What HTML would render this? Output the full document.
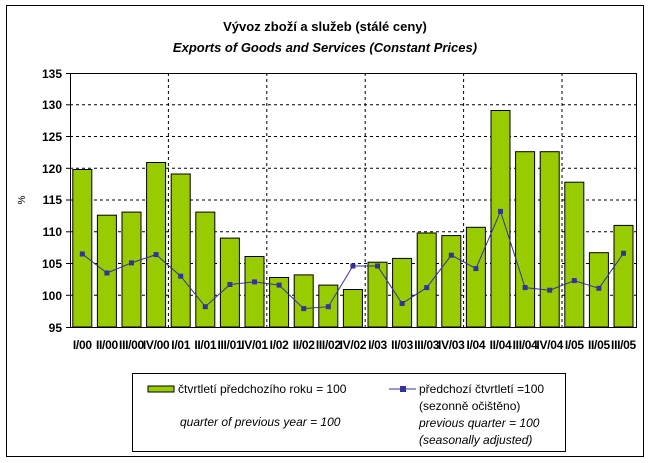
<!DOCTYPE html>
<html><head><meta charset="utf-8"><style>
body{margin:0;background:#fff}
svg{display:block;font-family:"Liberation Sans",Arial,sans-serif}
</style></head><body>
<svg width="650" height="463" viewBox="0 0 650 463" xmlns="http://www.w3.org/2000/svg">
<rect x="0" y="0" width="650" height="463" fill="#fff"/>
<rect x="6.5" y="5.5" width="637" height="451" fill="none" stroke="#000" stroke-width="1"/>
<text x="325" y="31" text-anchor="middle" font-size="13" font-weight="bold">Vývoz zboží a služeb (stálé ceny)</text>
<text x="325" y="52" text-anchor="middle" font-size="13" font-weight="bold" font-style="italic">Exports of Goods and Services (Constant Prices)</text>
<g stroke="#000" stroke-dasharray="3,3" stroke-width="1">
<line x1="70" x2="636" y1="104.8" y2="104.8"/><line x1="70" x2="636" y1="136.5" y2="136.5"/>
<line x1="70" x2="636" y1="168.3" y2="168.3"/><line x1="70" x2="636" y1="200" y2="200"/>
<line x1="70" x2="636" y1="231.8" y2="231.8"/><line x1="70" x2="636" y1="263.5" y2="263.5"/>
<line x1="70" x2="636" y1="295.3" y2="295.3"/>
<line x1="168.4" x2="168.4" y1="73" y2="327"/><line x1="266.8" x2="266.8" y1="73" y2="327"/>
<line x1="365.2" x2="365.2" y1="73" y2="327"/><line x1="463.6" x2="463.6" y1="73" y2="327"/>
<line x1="562" x2="562" y1="73" y2="327"/>
</g>
<g fill="#99cc00" stroke="#000" stroke-width="1">
<rect x="72.8" y="169.5" width="19" height="157.5"/>
<rect x="97.4" y="215.2" width="19" height="111.8"/>
<rect x="122" y="212.1" width="19" height="114.9"/>
<rect x="146.6" y="162.5" width="19" height="164.5"/>
<rect x="171.2" y="174" width="19" height="153"/>
<rect x="195.8" y="212.1" width="19" height="114.9"/>
<rect x="220.4" y="238.1" width="19" height="88.9"/>
<rect x="245" y="256.5" width="19" height="70.5"/>
<rect x="269.6" y="277.5" width="19" height="49.5"/>
<rect x="294.2" y="274.9" width="19" height="52.1"/>
<rect x="318.8" y="285.1" width="19" height="41.9"/>
<rect x="343.4" y="289.5" width="19" height="37.5"/>
<rect x="368" y="262.2" width="19" height="64.8"/>
<rect x="392.6" y="258.4" width="19" height="68.6"/>
<rect x="417.2" y="233" width="19" height="94"/>
<rect x="441.8" y="235.6" width="19" height="91.4"/>
<rect x="466.4" y="227.3" width="19" height="99.7"/>
<rect x="491" y="110.5" width="19" height="216.5"/>
<rect x="515.6" y="151.7" width="19" height="175.3"/>
<rect x="540.2" y="151.7" width="19" height="175.3"/>
<rect x="564.8" y="182.2" width="19" height="144.8"/>
<rect x="589.4" y="252.7" width="19" height="74.3"/>
<rect x="614" y="225.4" width="19" height="101.6"/>
</g>
<polyline fill="none" stroke="#333399" stroke-width="1" points="82.3,254 106.9,273 131.5,262.9 156.1,254.6 180.7,276.2 205.3,306.7 229.9,284.5 254.5,281.9 279.1,285.1 303.7,308.6 328.3,306.7 352.9,266 377.5,266 402.1,303.5 426.7,287.6 451.3,255.2 475.9,268.6 500.5,211.4 525.1,287.6 549.7,290.2 574.3,280.6 598.9,288.3 623.5,253.3"/>
<g fill="#333399">
<rect x="79.8" y="251.5" width="5" height="5"/><rect x="104.4" y="270.5" width="5" height="5"/>
<rect x="129" y="260.4" width="5" height="5"/><rect x="153.6" y="252.1" width="5" height="5"/>
<rect x="178.2" y="273.7" width="5" height="5"/><rect x="202.8" y="304.2" width="5" height="5"/>
<rect x="227.4" y="282" width="5" height="5"/><rect x="252" y="279.4" width="5" height="5"/>
<rect x="276.6" y="282.6" width="5" height="5"/><rect x="301.2" y="306.1" width="5" height="5"/>
<rect x="325.8" y="304.2" width="5" height="5"/><rect x="350.4" y="263.5" width="5" height="5"/>
<rect x="375" y="263.5" width="5" height="5"/><rect x="399.6" y="301" width="5" height="5"/>
<rect x="424.2" y="285.1" width="5" height="5"/><rect x="448.8" y="252.7" width="5" height="5"/>
<rect x="473.4" y="266.1" width="5" height="5"/><rect x="498" y="208.9" width="5" height="5"/>
<rect x="522.6" y="285.1" width="5" height="5"/><rect x="547.2" y="287.7" width="5" height="5"/>
<rect x="571.8" y="278.1" width="5" height="5"/><rect x="596.4" y="285.8" width="5" height="5"/>
<rect x="621" y="250.8" width="5" height="5"/>
</g>
<rect x="70.5" y="73.5" width="566" height="254" fill="none" stroke="#000"/>
<g stroke="#000">
<line x1="66" x2="70" y1="73.5" y2="73.5"/><line x1="66" x2="70" y1="104.8" y2="104.8"/>
<line x1="66" x2="70" y1="136.5" y2="136.5"/><line x1="66" x2="70" y1="168.3" y2="168.3"/>
<line x1="66" x2="70" y1="200" y2="200"/><line x1="66" x2="70" y1="231.8" y2="231.8"/>
<line x1="66" x2="70" y1="263.5" y2="263.5"/><line x1="66" x2="70" y1="295.3" y2="295.3"/>
<line x1="66" x2="70" y1="327.5" y2="327.5"/>
</g>
<g font-size="12" font-weight="bold" text-anchor="end">
<text x="62" y="78">135</text><text x="62" y="109">130</text><text x="62" y="141">125</text>
<text x="62" y="173">120</text><text x="62" y="204">115</text><text x="62" y="236">110</text>
<text x="62" y="268">105</text><text x="62" y="300">100</text><text x="62" y="332">95</text>
</g>
<text x="25" y="200" font-size="10" transform="rotate(-90 25 200)" text-anchor="middle">%</text>
<g font-size="12" font-weight="bold" text-anchor="middle" letter-spacing="-0.3">
<text x="82.3" y="349">I/00</text><text x="106.9" y="349">II/00</text><text x="131.5" y="349">III/00</text>
<text x="156.1" y="349">IV/00</text><text x="180.7" y="349">I/01</text><text x="205.3" y="349">II/01</text>
<text x="229.9" y="349">III/01</text><text x="254.5" y="349">IV/01</text><text x="279.1" y="349">I/02</text>
<text x="303.7" y="349">II/02</text><text x="328.3" y="349">III/02</text><text x="352.9" y="349">IV/02</text>
<text x="377.5" y="349">I/03</text><text x="402.1" y="349">II/03</text><text x="426.7" y="349">III/03</text>
<text x="451.3" y="349">IV/03</text><text x="475.9" y="349">I/04</text><text x="500.5" y="349">II/04</text>
<text x="525.1" y="349">III/04</text><text x="549.7" y="349">IV/04</text><text x="574.3" y="349">I/05</text>
<text x="598.9" y="349">II/05</text><text x="623.5" y="349">III/05</text>
</g>
<rect x="132.5" y="373.5" width="433" height="78" fill="#fff" stroke="#000"/>
<rect x="148" y="386" width="26" height="6" fill="#99cc00" stroke="#000"/>
<g font-size="12">
<text x="178" y="393">čtvrtletí předchozího roku = 100</text>
<text x="180" y="426" font-style="italic">quarter of previous year = 100</text>
<line x1="389" x2="416" y1="389" y2="389" stroke="#333399"/>
<rect x="400" y="386" width="6" height="6" fill="#333399"/>
<text x="419" y="393">předchozí čtvrtletí =100</text>
<text x="419" y="410">(sezonně očištěno)</text>
<text x="419" y="427" font-style="italic">previous quarter = 100</text>
<text x="419" y="444" font-style="italic">(seasonally adjusted)</text>
</g>
</svg>
</body></html>
